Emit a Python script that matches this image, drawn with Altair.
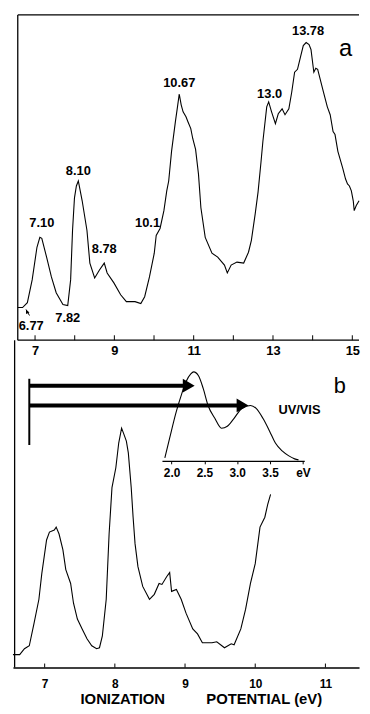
import altair as alt
import pandas as pd

FONT = "Liberation Sans"

# ---------------- panel a : photoelectron spectrum ----------------
a_ev = [6.564, 6.685, 6.806, 6.927, 7.048, 7.121, 7.170, 7.291, 7.412, 7.533,
        7.703, 7.824, 7.897, 7.945, 7.994, 8.042, 8.091, 8.188, 8.309, 8.382,
        8.503, 8.624, 8.745, 8.818, 8.988, 9.158, 9.303, 9.521, 9.667, 9.764,
        9.885, 10.006, 10.055, 10.152, 10.249, 10.321, 10.370, 10.442, 10.539, 10.588,
        10.636, 10.685, 10.733, 10.806, 10.855, 10.927, 10.976, 11.048, 11.121, 11.182,
        11.291, 11.461, 11.606, 11.776, 11.848, 11.945, 12.091, 12.261, 12.382, 12.455,
        12.552, 12.624, 12.697, 12.745, 12.842, 12.891, 12.964, 13.061, 13.133, 13.230,
        13.303, 13.400, 13.473, 13.545, 13.618, 13.691, 13.764, 13.836, 13.909, 13.958,
        14.030, 14.079, 14.127, 14.273, 14.370, 14.442, 14.515, 14.564, 14.636, 14.758,
        14.830, 14.879, 14.927, 14.976, 15.024, 15.048, 15.097, 15.170]
a_int = [33, 33, 38, 61, 94, 104, 103, 84, 64, 48,
         36, 35, 61, 111, 144, 156, 161, 141, 111, 78,
         63, 71, 78, 68, 58, 46, 39, 39, 37, 44,
         64, 88, 106, 113, 131, 151, 161, 191, 221, 235,
         249, 238, 231, 226, 221, 214, 204, 193, 168, 134,
         104, 88, 84, 76, 68, 76, 79, 78, 89, 101,
         128, 150, 180, 201, 236, 241, 231, 219, 229, 234,
         228, 234, 251, 271, 274, 286, 298, 301, 299, 294,
         271, 275, 274, 251, 236, 228, 211, 208, 191, 174,
         163, 158, 156, 151, 141, 131, 136, 141]

a_peak_text = ["6.77", "7.10", "7.82", "8.10", "8.78", "10.1", "10.67", "13.0", "13.78"]
a_peak_ev = [6.903, 7.170, 7.824, 8.091, 8.745, 9.836, 10.636, 12.915, 13.885]
a_peak_int = [14, 118, 22, 171, 92, 118, 260, 249, 313]

a_ticks = [7, 8, 9, 10, 11, 12, 13, 14, 15]
a_tick_labels = [7, 9, 11, 13, 15]

# onset pointer (6.77 eV)
ptr_ev = [6.860, 6.772]
ptr_int = [25, 31]

# ---------------- panel b : expanded PES + UV/VIS inset ----------------
b_ev = [6.548, 6.644, 6.712, 6.781, 6.849, 6.918, 6.959, 7.027, 7.068, 7.137,
        7.164, 7.205, 7.260, 7.301, 7.370, 7.411, 7.466, 7.534, 7.603, 7.671,
        7.740, 7.781, 7.822, 7.877, 7.918, 7.959, 8.014, 8.055, 8.096, 8.123,
        8.164, 8.192, 8.233, 8.260, 8.288, 8.329, 8.397, 8.493, 8.562, 8.630,
        8.671, 8.740, 8.781, 8.808, 8.877, 8.945, 9.014, 9.110, 9.178, 9.247,
        9.384, 9.452, 9.562, 9.658, 9.699, 9.795, 9.863, 9.932, 10.000, 10.068,
        10.137, 10.178, 10.219]
b_int = [13, 13, 19, 22, 45, 69, 95, 129, 137, 139,
         142, 135, 119, 99, 85, 65, 49, 39, 29, 22,
         19, 20, 32, 69, 135, 182, 202, 227, 242, 237,
         229, 217, 182, 152, 125, 102, 82, 69, 74, 85,
         84, 92, 96, 77, 79, 69, 55, 39, 34, 25,
         25, 26, 20, 24, 23, 39, 59, 85, 105, 142,
         152, 165, 175]
b_ticks = [7, 8, 9, 10, 11]

uv_ev = [1.898, 1.971, 2.073, 2.146, 2.220, 2.293, 2.337, 2.410, 2.483, 2.556,
         2.659, 2.761, 2.849, 2.952, 3.069, 3.201, 3.288, 3.391, 3.493, 3.581,
         3.684, 3.786, 3.874, 3.933]
uv_int = [212, 232, 259, 275, 289, 297, 299, 295, 282, 265,
          252, 242, 244, 252, 262, 265, 262, 252, 239, 227,
          219, 214, 211, 210]
uv_ticks = [2.0, 2.5, 3.0, 3.5, 4.0]
UV_AXIS_LEVEL = 209

onset_ev = 6.781
uv_band_ev = [2.356, 3.123]
arrow_level = [285, 265]
bar_low, bar_high = 225, 292

b_text = ["b", "UV/VIS"]
b_text_ev = [11.205, 10.630]
b_text_int = [285, 260]
b_text_size = [22, 13]
b_text_weight = ["normal", "bold"]

# ---------------- scales / axes ----------------
W = 350
HA, HB = 329, 321
XA = alt.Scale(domain=[6.4424, 15.1697], nice=False, zero=False)
YA = alt.Scale(domain=[0, HA], nice=False, zero=False)
XB = alt.Scale(domain=[6.548, 11.479], nice=False, zero=False)
YB = alt.Scale(domain=[0, HB], nice=False, zero=False)
XU = alt.Scale(domain=[1.854, 4.0205], range=[150.7, 294.6], nice=False, zero=False)

A_LEFT, A_RIGHT, A_TOP = a_ev[0], 15.1697, HA
B_LEFT = 6.572

AXA = alt.Axis(values=a_tick_labels, ticks=False, domain=False, grid=False,
               labelFontSize=13, labelFontWeight="bold", labelPadding=4, labelFlush=False,
               labelColor="black", labelFont=FONT, title=None)

title_b = "IONIZATION" + "\u00a0" * 10 + "POTENTIAL (eV)"
AXB = alt.Axis(values=b_ticks, ticks=False, domain=True, domainColor="black",
               domainWidth=1.3, grid=False, labelFontSize=12, labelFontWeight="bold",
               labelPadding=11, labelFlush=False, labelColor="black", labelFont=FONT,
               title=title_b, titleFont=FONT, titleFontSize=15,
               titleFontWeight="bold", titleColor="black",
               titleX=190, titleY=36, titleAlign="center",
               titleBaseline="alphabetic")


def xa(f):
    return alt.X(f, scale=XA, axis=AXA)


def ya(f):
    return alt.Y(f, scale=YA, axis=None)


def xb(f):
    return alt.X(f, scale=XB, axis=AXB)


def yb(f):
    return alt.Y(f, scale=YB, axis=None)


# ---------------- panel a ----------------
df_a = pd.DataFrame({"ev": a_ev, "i": a_int})
curve_a = alt.Chart(df_a).mark_line(color="black", strokeWidth=1.1).encode(
    x=xa("ev:Q"), y=ya("i:Q"))

frame_a = pd.DataFrame({"x": [A_LEFT, A_LEFT, A_LEFT], "x2": [A_RIGHT, A_LEFT, A_RIGHT],
                        "y": [0, 0, A_TOP], "y2": [0, A_TOP, A_TOP]})
frame_a_l = alt.Chart(frame_a).mark_rule(color="black", strokeWidth=1.3).encode(
    x=xa("x:Q"), x2="x2:Q", y=ya("y:Q"), y2="y2:Q")

ticks_a = alt.Chart(pd.DataFrame({"t": a_ticks, "y0": 0, "y1": 5})).mark_rule(
    color="black", strokeWidth=1).encode(x=xa("t:Q"), y=ya("y0:Q"), y2="y1:Q")

peaks_a = alt.Chart(pd.DataFrame({"ev": a_peak_ev, "i": a_peak_int, "t": a_peak_text})).mark_text(
    font=FONT, fontSize=13, fontWeight="bold", color="black", baseline="middle",
    align="center").encode(x=xa("ev:Q"), y=ya("i:Q"), text="t:N")

label_a = alt.Chart(pd.DataFrame({"ev": [14.830], "i": [294], "t": ["a"]})).mark_text(
    font=FONT, fontSize=24, color="black", baseline="middle", align="center").encode(
    x=xa("ev:Q"), y=ya("i:Q"), text="t:N")

df_ptr = pd.DataFrame({"x": [ptr_ev[0]], "x2": [ptr_ev[1]], "y": [ptr_int[0]], "y2": [ptr_int[1]]})
ptr_line = alt.Chart(df_ptr).mark_rule(color="black", strokeWidth=1).encode(
    x=xa("x:Q"), x2="x2:Q", y=ya("y:Q"), y2="y2:Q")
ptr_head = alt.Chart(df_ptr).mark_point(
    shape="M0,0L-0.6,1.3L0.6,1.3Z", size=40, filled=True, opacity=1,
    color="black", angle=335).encode(x=xa("x2:Q"), y=ya("y2:Q"))

panel_a = alt.layer(curve_a, frame_a_l, ticks_a, peaks_a, label_a, ptr_line, ptr_head).properties(
    width=W, height=HA)

# ---------------- panel b ----------------
df_b = pd.DataFrame({"ev": b_ev, "i": b_int})
curve_b = alt.Chart(df_b).mark_line(color="black", strokeWidth=1.1).encode(
    x=xb("ev:Q"), y=yb("i:Q"))

frame_b = alt.Chart(pd.DataFrame({"x": [B_LEFT], "y": [0], "y2": [HB + 10]})).mark_rule(
    color="black", strokeWidth=1.3).encode(x=xb("x:Q"), y=yb("y:Q"), y2="y2:Q")

ticks_b = alt.Chart(pd.DataFrame({"t": b_ticks, "y0": 0, "y1": 4})).mark_rule(
    color="black", strokeWidth=1).encode(x=xb("t:Q"), y=yb("y0:Q"), y2="y1:Q")

bar = alt.Chart(pd.DataFrame({"x": [onset_ev], "y": [bar_low], "y2": [bar_high]})).mark_rule(
    color="black", strokeWidth=2).encode(x=xb("x:Q"), y=yb("y:Q"), y2="y2:Q")

df_arrow = pd.DataFrame({"band": uv_band_ev, "level": arrow_level})
shafts = alt.Chart(df_arrow).transform_calculate(
    x0=f"{onset_ev}", end=f"{onset_ev} + datum.band - 0.14"
).mark_rule(color="black", strokeWidth=4, strokeCap="butt").encode(
    x=xb("x0:Q"), x2="end:Q", y=yb("level:Q"))
heads = alt.Chart(df_arrow).transform_calculate(
    tip=f"{onset_ev} + datum.band"
).mark_point(shape="M0,0L-1,-0.58L-1,0.58Z", size=576, filled=True, opacity=1,
             color="black", strokeWidth=0).encode(x=xb("tip:Q"), y=yb("level:Q"))

text_b_df = pd.DataFrame({"ev": b_text_ev, "i": b_text_int, "t": b_text,
                          "s": b_text_size, "w": b_text_weight})
text_b_reg = alt.Chart(text_b_df).transform_filter("datum.w == 'normal'").mark_text(
    font=FONT, color="black", baseline="middle", align="center").encode(
    x=xb("ev:Q"), y=yb("i:Q"), text="t:N",
    size=alt.Size("s:Q", scale=None, legend=None))
text_b_bold = alt.Chart(text_b_df).transform_filter("datum.w == 'bold'").mark_text(
    font=FONT, fontWeight="bold", color="black", baseline="middle", align="center").encode(
    x=xb("ev:Q"), y=yb("i:Q"), text="t:N",
    size=alt.Size("s:Q", scale=None, legend=None))

main_b = alt.layer(curve_b, frame_b, ticks_b, bar, shafts, heads, text_b_reg, text_b_bold)

inset = alt.Chart(pd.DataFrame({"u": uv_ev, "i": uv_int})).mark_line(
    color="black", strokeWidth=1.1, interpolate="monotone").encode(
    x=alt.X("u:Q", scale=XU,
            axis=alt.Axis(orient="bottom", offset=-UV_AXIS_LEVEL, values=uv_ticks,
                          labelExpr="datum.value > 3.9 ? 'eV' : format(datum.value, '.1f')",
                          ticks=True, tickSize=3, tickColor="black", domainColor="black",
                          domainWidth=1.2, grid=False, labelFontSize=12,
                          labelFontWeight="bold", labelPadding=4,
                          labelFlush=False, labelColor="black", labelFont=FONT, title=None)),
    y=yb("i:Q"),
)

panel_b = alt.layer(main_b, inset).resolve_scale(x="independent").properties(width=W, height=HB)

chart = alt.vconcat(panel_a, panel_b, spacing=10, bounds="flush").resolve_scale(
    x="independent", y="independent"
).properties(
    padding={"left": 2, "top": 2, "right": 0, "bottom": 0}
).configure_view(stroke=None).configure_axis(grid=False, labelFont=FONT, titleFont=FONT)

chart.save("out.html", embed_options={"renderer": "svg", "actions": False})
